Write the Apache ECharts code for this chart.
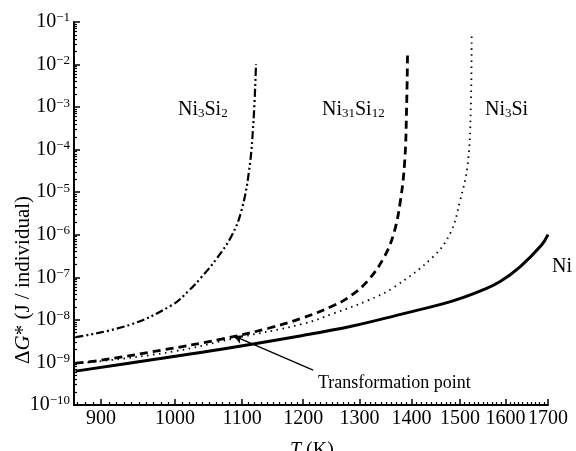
<!DOCTYPE html>
<html><head><meta charset="utf-8">
<script src="https://cdn.jsdelivr.net/npm/echarts@6/dist/echarts.min.js"></script>
<style>html,body{margin:0;padding:0;background:#fff}#c{width:576px;height:451px}</style>
</head><body><div id="c"></div>
<script>
// ---- data ----
const xTickLabels = [900, 1000, 1100, 1200, 1300, 1400, 1500, 1600, 1700];
const yTickValues = [1e-10, 1e-9, 1e-8, 1e-7, 1e-6, 1e-5, 1e-4, 1e-3, 1e-2, 1e-1];

const niT = [868, 967.5, 1068, 1197, 1285, 1378, 1480, 1543, 1589, 1635, 1684, 1700];
const niG = [6.25e-10, 1.16e-9, 2.05e-9, 4.25e-9, 7.08e-9, 1.35e-8, 2.69e-8, 4.72e-8, 8.1e-8, 1.82e-7, 5.65e-7, 1.01e-6];

const ni3si2T = [868, 936, 995, 1020, 1038, 1061, 1084, 1099, 1111, 1118, 1122];
const ni3si2G = [3.92e-9, 7.5e-9, 2.2e-8, 4.93e-8, 1.0e-7, 2.77e-7, 9.6e-7, 3.7e-6, 3.2e-5, 4.7e-4, 1.02e-2];

const ni31si12T = [868, 900, 981, 1068, 1142, 1197, 1254, 1285, 1316, 1346, 1365, 1378, 1386.5, 1390, 1392];
const ni31si12G = [9.6e-10, 1.13e-9, 1.94e-9, 3.52e-9, 6.36e-9, 1.09e-8, 2.2e-8, 3.77e-8, 8.45e-8, 2.92e-7, 1.07e-6, 6.3e-6, 5.5e-5, 8.1e-4, 1.75e-2];

const ni3siT = [868, 900, 1000, 1088, 1197, 1254, 1316, 1365, 1444, 1480, 1500, 1516, 1523, 1525];
const ni3siG = [9.6e-10, 1.07e-9, 1.84e-9, 3.7e-9, 7.9e-9, 1.43e-8, 2.88e-8, 5.8e-8, 3.08e-7, 1.13e-6, 6.3e-6, 4.2e-5, 8.1e-4, 5.2e-2];

const curveNames = ['Ni', 'Ni3Si2', 'Ni31Si12', 'Ni3Si'];

// minor tick positions
const xMinor = [];
for (let t = 870; t <= 1700; t += 10) if (t % 100 !== 0) xMinor.push(t);
const yMinor = [];
for (let e = -10; e < -1; e++) for (let k = 2; k <= 9; k++) yMinor.push(k * Math.pow(10, e));

const zip = (a, b) => a.map((v, i) => [v, b[i]]);
const FONT = 'Liberation Serif';

const chart = echarts.init(document.getElementById('c'), null, {renderer: 'canvas'});

const baseLine = {type: 'line', showSymbol: false, symbol: 'none', smooth: 0.4, xAxisIndex: 0, yAxisIndex: 0, animation: false, clip: false};

chart.setOption({
  animation: false,
  backgroundColor: '#fff',
  grid: {left: 74, right: 28, top: 22, bottom: 46, containLabel: false},
  xAxis: [
    {type: 'log', min: 866, max: 1700, position: 'bottom',
     axisLine: {show: true, lineStyle: {color: '#000', width: 2}},
     axisTick: {show: true, inside: true, length: 6, customValues: xTickLabels, lineStyle: {color: '#000', width: 1.5}},
     axisLabel: {show: true, customValues: xTickLabels, formatter: v => String(Math.round(v)), color: '#000', fontFamily: FONT, fontSize: 20, margin: 4},
     splitLine: {show: false}},
    {type: 'log', min: 866, max: 1700, position: 'bottom', offset: 0,
     axisLine: {show: false},
     axisTick: {show: true, inside: true, length: 3, customValues: xMinor, lineStyle: {color: '#000', width: 1.2}},
     axisLabel: {show: false}, splitLine: {show: false}}
  ],
  yAxis: [
    {type: 'log', min: 1e-10, max: 1e-1, position: 'left',
     axisLine: {show: true, lineStyle: {color: '#000', width: 2}},
     axisTick: {show: true, inside: true, length: 6, customValues: yTickValues, lineStyle: {color: '#000', width: 1.5}},
     axisLabel: {show: true, customValues: yTickValues, margin: 4,
       formatter: v => '{b|10}{s|\u2212' + Math.round(-Math.log10(v)) + '}',
       rich: {b: {fontFamily: FONT, fontSize: 20, color: '#000'},
              s: {fontFamily: FONT, fontSize: 13, color: '#000', verticalAlign: 'top', padding: [0, 0, 8, 0]}}},
     splitLine: {show: false}},
    {type: 'log', min: 1e-10, max: 1e-1, position: 'left', offset: 0,
     axisLine: {show: false},
     axisTick: {show: true, inside: true, length: 3, customValues: yMinor, lineStyle: {color: '#000', width: 1.2}},
     axisLabel: {show: false}, splitLine: {show: false}}
  ],
  series: [
    Object.assign({}, baseLine, {name: curveNames[0], data: zip(niT, niG), lineStyle: {color: '#000', width: 3, type: 'solid'},
      markLine: {silent: true, symbol: ['none', 'arrow'], symbolSize: [7, 9], animation: false,
        label: {show: false}, lineStyle: {color: '#000', width: 1.3, type: 'solid'},
        data: [[{coord: [1217, 6.6e-10]}, {coord: [1087, 4.2e-9]}]]}}),
    Object.assign({}, baseLine, {name: curveNames[1], data: zip(ni3si2T, ni3si2G), lineStyle: {color: '#000', width: 2.2, type: [8, 3, 2, 3, 2, 3]}}),
    Object.assign({}, baseLine, {name: curveNames[2], data: zip(ni31si12T, ni31si12G), lineStyle: {color: '#000', width: 2.8, type: [8, 5]}}),
    Object.assign({}, baseLine, {name: curveNames[3], data: zip(ni3siT, ni3siG), lineStyle: {color: '#000', width: 1.8, type: [1.5, 4.5]}}),
    // invisible helper so the minor-tick axes are not blank
    {type: 'line', name: 'ticks', xAxisIndex: 1, yAxisIndex: 1, data: [[1000, 1e-5]], symbol: 'none', silent: true,
     lineStyle: {opacity: 0}, itemStyle: {opacity: 0}, animation: false, tooltip: {show: false}}
  ],
  graphic: [
    {type: 'text', left: 178, top: 100, style: {text: 'Ni{s|3}Si{s|2}', font: '20px "Liberation Serif"', fill: '#000',
      rich: {s: {fontFamily: FONT, fontSize: 13, fill: '#000', verticalAlign: 'bottom', padding: [6, 0, 0, 0]}}}},
    {type: 'text', left: 322, top: 100, style: {text: 'Ni{s|31}Si{s|12}', font: '20px "Liberation Serif"', fill: '#000',
      rich: {s: {fontFamily: FONT, fontSize: 13, fill: '#000', verticalAlign: 'bottom', padding: [6, 0, 0, 0]}}}},
    {type: 'text', left: 485, top: 100, style: {text: 'Ni{s|3}Si', font: '20px "Liberation Serif"', fill: '#000',
      rich: {s: {fontFamily: FONT, fontSize: 13, fill: '#000', verticalAlign: 'bottom', padding: [6, 0, 0, 0]}}}},
    {type: 'text', left: 552, top: 257, style: {text: 'Ni', font: '20px "Liberation Serif"', fill: '#000'}},
    {type: 'text', left: 318, top: 374, style: {text: 'Transformation point', font: '18px "Liberation Serif"', fill: '#000'}},
    {type: 'text', left: 290, top: 441, style: {text: '{i|T} (K)', font: '20px "Liberation Serif"', fill: '#000',
      rich: {i: {fontFamily: FONT, fontStyle: 'italic', fontSize: 20, fill: '#000'}}}},
    {type: 'text', x: 13, y: 364, rotation: Math.PI / 2,
      style: {text: '\u0394{i|G}* (J / individual)', font: '21px "Liberation Serif"', fill: '#000', align: 'left', verticalAlign: 'top',
        rich: {i: {fontFamily: FONT, fontStyle: 'italic', fontSize: 21, fill: '#000'}}}}
  ]
});
</script></body></html>
